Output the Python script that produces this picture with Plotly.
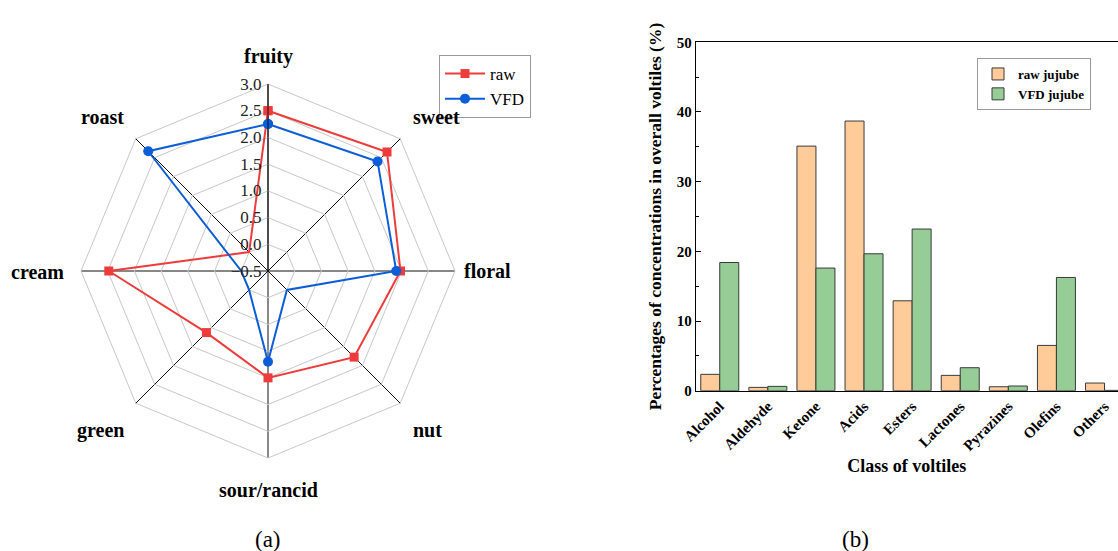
import plotly.graph_objects as go

W, H = 1118, 551
FONT = "Liberation Serif"

# ---- radar data (a) ----
attributes = ["fruity", "sweet", "floral", "nut", "sour/rancid", "green", "cream", "roast"]
raw_scores = [2.5, 2.65, 1.98, 1.78, 1.5, 1.13, 2.48, 0.0]
vfd_scores = [2.25, 2.4, 1.9, 0.0, 1.2, 0.0, 0.0, 2.67]

# ---- bar data (b) ----
classes = ["Alcohol", "Aldehyde", "Ketone", "Acids", "Esters", "Lactones", "Pyrazines", "Olefins", "Others"]
raw_jujube = [2.35, 0.48, 35.1, 38.7, 12.9, 2.2, 0.57, 6.5, 1.1]
vfd_jujube = [18.4, 0.62, 17.6, 19.65, 23.2, 3.3, 0.67, 16.25, 0.05]

RED = "#EE3B3B"
BLUE = "#0B5ED7"
PEACH = "#FFCC99"
GREEN = "#96CC96"

def px(x, y):
    return x / W, 1 - y / H

fig = go.Figure()

fig.add_trace(go.Scatterpolar(
    r=raw_scores + raw_scores[:1], theta=attributes + attributes[:1],
    mode="lines+markers", name="raw",
    line=dict(color=RED, width=2), marker=dict(symbol="square", size=9, color=RED),
    legend="legend",
))
fig.add_trace(go.Scatterpolar(
    r=vfd_scores + vfd_scores[:1], theta=attributes + attributes[:1],
    mode="lines+markers", name="VFD",
    line=dict(color=BLUE, width=2), marker=dict(symbol="circle", size=10, color=BLUE),
    legend="legend",
))

fig.add_trace(go.Bar(
    x=classes, y=raw_jujube, name="raw jujube", marker=dict(color=PEACH, line=dict(color="#3a3a3a", width=1)),
    xaxis="x", yaxis="y", legend="legend2",
))
fig.add_trace(go.Bar(
    x=classes, y=vfd_jujube, name="VFD jujube", marker=dict(color=GREEN, line=dict(color="#3a3a3a", width=1)),
    xaxis="x", yaxis="y", legend="legend2",
))

cx, cy, R = 268, 271, 187
x0, x1 = (cx - R) / W, (cx + R) / W
y0, y1 = 1 - (cy + R) / H, 1 - (cy - R) / H

fig.update_layout(
    width=W, height=H,
    margin=dict(l=0, r=0, t=0, b=0, autoexpand=False),
    paper_bgcolor="white", plot_bgcolor="white",
    font=dict(family=FONT, color="black"),
    polar=dict(
        domain=dict(x=[x0, x1], y=[y0, y1]),
        gridshape="linear",
        bgcolor="white",
        angularaxis=dict(direction="clockwise", rotation=90, showticklabels=False, ticks="",
                         gridcolor="#111111", gridwidth=1, linecolor="#c8c8c8", linewidth=1,
                         categoryorder="array", categoryarray=attributes),
        radialaxis=dict(range=[-0.5, 3.0], dtick=0.5, angle=90, tickangle=90, side="counterclockwise",
                        gridcolor="#c8c8c8", gridwidth=1, showline=True, linecolor="#111111",
                        linewidth=1, ticks="", tickformat=".1f",
                        tickfont=dict(family=FONT, size=17, color="#222")),
    ),
    xaxis=dict(domain=[695.7 / W, 1.0], anchor="y", range=[-0.5, 8.28], automargin=False,
               showline=True, linecolor="black", linewidth=1, mirror=True, ticks="",
               tickangle=-45, tickfont=dict(family=FONT, size=15, color="black", weight="bold"),
               title=dict(text="Class of voltiles", font=dict(family=FONT, size=18, weight="bold"), standoff=6),
               showgrid=False),
    yaxis=dict(domain=[1 - 390.7 / H, 1 - 42.3 / H], anchor="x", range=[0, 50], dtick=10, automargin=False,
               showline=True, linecolor="black", linewidth=1, mirror=False,
               ticks="inside", ticklen=5, tickcolor="black",
               minor=dict(dtick=5, ticks="inside", ticklen=3, tickcolor="black"),
               tickfont=dict(family=FONT, size=15, color="black", weight="bold"),
               title=dict(text="Percentages of concentrations in overall voltiles (%)",
                          font=dict(family=FONT, size=17.5, weight="bold"), standoff=10),
               showgrid=False, zeroline=False),
    barmode="group", bargap=0.21, bargroupgap=0.0,
    legend=dict(x=439 / W, y=1 - 55 / H, xanchor="left", yanchor="top",
                bordercolor="#999999", borderwidth=1, bgcolor="white",
                font=dict(family=FONT, size=17, color="black"), tracegroupgap=0,
                itemwidth=40),
    legend2=dict(x=977 / W, y=1 - 58 / H, xanchor="left", yanchor="top",
                 bordercolor="#999999", borderwidth=1, bgcolor="white",
                 font=dict(family=FONT, size=13, color="black", weight="bold"), tracegroupgap=0,
                 itemwidth=30),
    showlegend=True,
)

# angular category labels
label_pos = [(268, 57), (436, 117), (488, 271), (427, 430),
             (268, 490), (100, 430), (37, 272), (102, 117)]
for name, (lx, ly) in zip(attributes, label_pos):
    ax_, ay_ = px(lx, ly)
    fig.add_annotation(x=ax_, y=ay_, xref="paper", yref="paper", text=name, showarrow=False,
                       xanchor="center", yanchor="middle",
                       font=dict(family=FONT, size=20, color="black", weight="bold"))

for cap, (lx, ly) in [("(a)", (268, 539)), ("(b)", (855, 539))]:
    ax_, ay_ = px(lx, ly)
    fig.add_annotation(x=ax_, y=ay_, xref="paper", yref="paper", text=cap, showarrow=False,
                       xanchor="center", yanchor="middle",
                       font=dict(family=FONT, size=23, color="black"))

fig.write_html("out.html", config={"displayModeBar": False},
               post_script="document.body.style.margin='0';document.body.style.overflow='hidden';")
